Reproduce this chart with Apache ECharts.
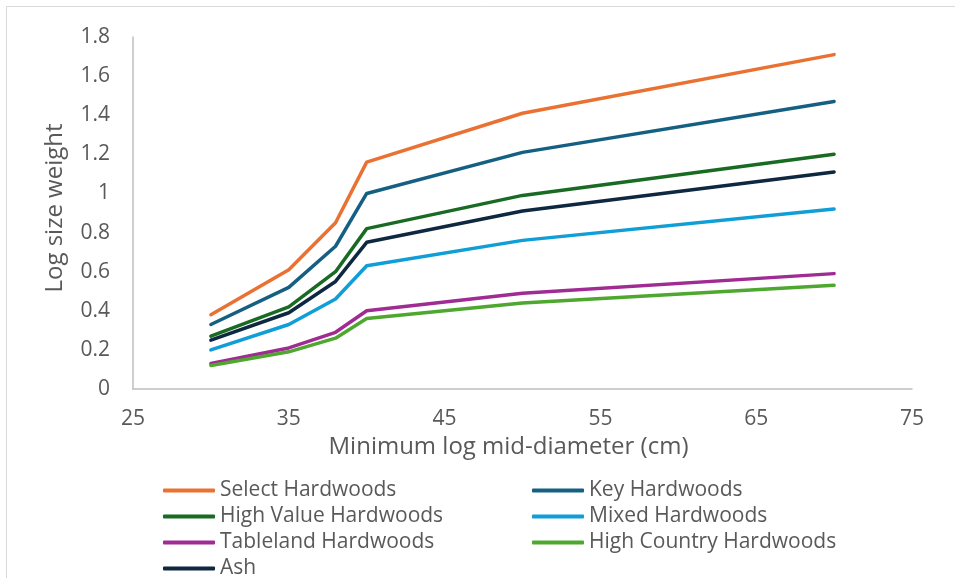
<!DOCTYPE html>
<html>
<head>
<meta charset="utf-8">
<script src="https://cdn.jsdelivr.net/npm/echarts@6/dist/echarts.min.js"></script>
<style>
  html, body { margin: 0; padding: 0; background: #ffffff; }
  #chart { width: 955px; height: 578px; }
</style>
</head>
<body>
<div id="chart"></div>
<script>
// Minimum log mid-diameter (cm) at which each weight applies
const diameters = [30, 35, 38, 40, 50, 70];

// Log size weights by hardwood group
const selectHardwoods      = [0.38, 0.61, 0.85, 1.16, 1.41, 1.71];
const keyHardwoods         = [0.33, 0.52, 0.73, 1.00, 1.21, 1.47];
const highValueHardwoods   = [0.27, 0.42, 0.60, 0.82, 0.99, 1.20];
const mixedHardwoods       = [0.20, 0.33, 0.46, 0.63, 0.76, 0.92];
const tablelandHardwoods   = [0.13, 0.21, 0.29, 0.40, 0.49, 0.59];
const highCountryHardwoods = [0.12, 0.19, 0.26, 0.36, 0.44, 0.53];
const ash                  = [0.25, 0.39, 0.55, 0.75, 0.91, 1.11];

const seriesNames = [
  'Select Hardwoods', 'Key Hardwoods', 'High Value Hardwoods', 'Mixed Hardwoods',
  'Tableland Hardwoods', 'High Country Hardwoods', 'Ash'
];
const seriesValues = [
  selectHardwoods, keyHardwoods, highValueHardwoods, mixedHardwoods,
  tablelandHardwoods, highCountryHardwoods, ash
];
const seriesColors = ['#E97132', '#156082', '#196B24', '#0F9ED5', '#A02B93', '#4EA72E', '#0E2841'];

const FONT = '"Open Sans", "Liberation Sans", Arial, sans-serif';
const TEXT = '#595959';

const chart = echarts.init(document.getElementById('chart'), null, { renderer: 'canvas' });

const series = seriesNames.map((name, i) => ({
  name,
  type: 'line',
  data: diameters.map((d, j) => [d, seriesValues[i][j]]),
  showSymbol: false,
  symbol: 'none',
  lineStyle: { color: seriesColors[i], width: 3.5, cap: 'round', join: 'round' },
  itemStyle: { color: seriesColors[i] },
  emphasis: { disabled: true },
  animation: false
}));

const legendCommon = {
  orient: 'vertical',
  top: 480,
  height: 130,
  itemWidth: 52,
  itemHeight: 4,
  itemGap: 5,
  icon: 'roundRect',
  selectedMode: false,
  textStyle: { fontFamily: FONT, fontSize: 21, color: TEXT, lineHeight: 21 },
  padding: 0
};

chart.setOption({
  backgroundColor: '#ffffff',
  animation: false,
  textStyle: { fontFamily: FONT },
  grid: { left: 133, right: 43, top: 37, bottom: 189, containLabel: false },
  xAxis: {
    type: 'value',
    min: 25,
    max: 75,
    interval: 10,
    name: 'Minimum log mid-diameter (cm)',
    nameLocation: 'middle',
    nameGap: 41,
    nameTextStyle: { fontFamily: FONT, fontSize: 24, color: TEXT, padding: [0, 28, 0, 0] },
    axisLine: { show: true, lineStyle: { color: '#BFBFBF', width: 1.5 } },
    axisTick: { show: false },
    splitLine: { show: false },
    axisLabel: { fontFamily: FONT, fontSize: 21, color: TEXT, margin: 20 }
  },
  yAxis: {
    type: 'value',
    min: 0,
    max: 1.8,
    interval: 0.2,
    name: 'Log size weight',
    nameLocation: 'middle',
    nameGap: 66,
    nameRotate: 90,
    nameTextStyle: { fontFamily: FONT, fontSize: 24, color: TEXT, padding: [0, 0, 0, 10] },
    axisLine: { show: true, lineStyle: { color: '#BFBFBF', width: 1.5 } },
    axisTick: { show: false },
    splitLine: { show: false },
    axisLabel: { fontFamily: FONT, fontSize: 21, color: TEXT, margin: 23 }
  },
  legend: [
    Object.assign({}, legendCommon, {
      left: 163,
      data: ['Select Hardwoods', 'High Value Hardwoods', 'Tableland Hardwoods', 'Ash']
    }),
    Object.assign({}, legendCommon, {
      left: 532,
      data: ['Key Hardwoods', 'Mixed Hardwoods', 'High Country Hardwoods']
    })
  ],
  graphic: [{
    type: 'rect',
    shape: { x: 6.5, y: 6.5, width: 1000, height: 1000 },
    style: { fill: 'none', stroke: '#D9D9D9', lineWidth: 1 },
    silent: true
  }],
  series
});
</script>
</body>
</html>
